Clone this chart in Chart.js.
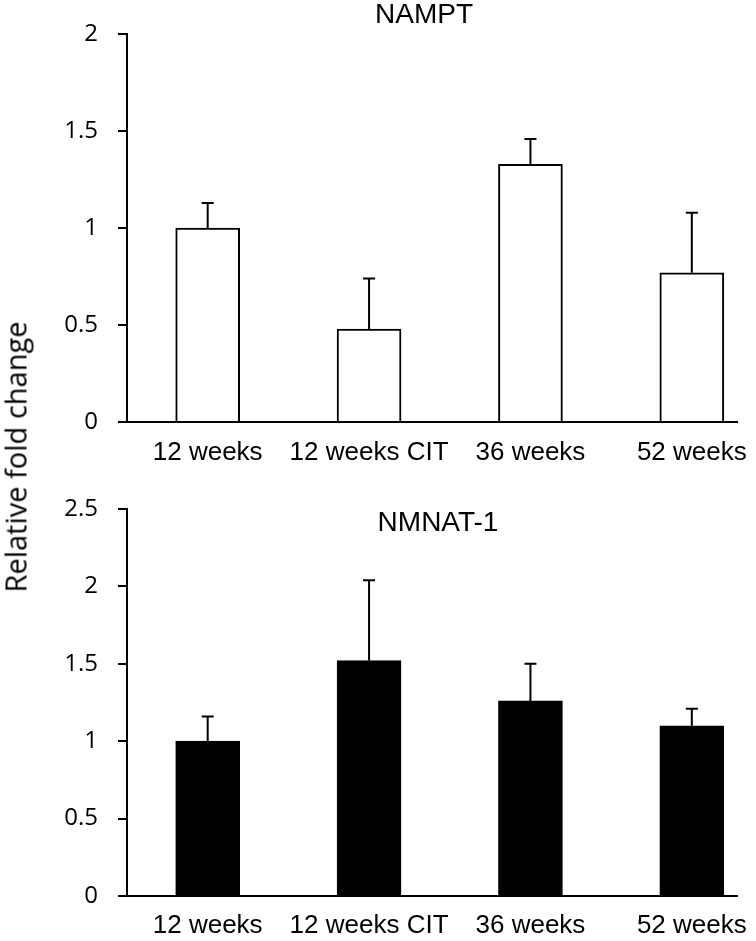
<!DOCTYPE html>
<html>
<head>
<meta charset="utf-8">
<script src="https://cdn.jsdelivr.net/npm/chart.js@4.4.1/dist/chart.umd.min.js"></script>
<style>
  body { margin: 0; background: #fff; }
  #wrap { position: relative; width: 756px; height: 941px; overflow: hidden; }
  canvas { position: absolute; left: 0; }
  #namptChart { top: 0; }
  #nmnatChart { top: 470px; }
  #yTitle {
    position: absolute; left: 15px; top: 457px;
    transform: translate(-50%, -50%) rotate(-90deg);
    font: 29px "Open Sans"; white-space: nowrap; color: #000;
  }
</style>
</head>
<body>
<div id="wrap">
  <canvas id="namptChart" width="756" height="470"></canvas>
  <canvas id="nmnatChart" width="756" height="471"></canvas>
  <div id="yTitle">Relative fold change</div>
</div>
<script>
const categories = ['12 weeks', '12 weeks CIT', '36 weeks', '52 weeks'];
const namptValues = [1.00, 0.48, 1.33, 0.77];
const namptErrors = [0.13, 0.26, 0.13, 0.31];
const nmnatValues = [1.00, 1.52, 1.26, 1.10];
const nmnatErrors = [0.16, 0.52, 0.24, 0.11];
const namptTicks = [0, 0.5, 1, 1.5, 2];
const nmnatTicks = [0, 0.5, 1, 1.5, 2, 2.5];

// upper error bars drawn from the bar top through the y scale
const errorBars = {
  id: 'errorBars',
  afterDatasetsDraw(chart, args, opts) {
    const { ctx, scales: { x, y } } = chart;
    ctx.save();
    ctx.strokeStyle = '#000';
    ctx.lineWidth = 2;
    chart.data.datasets[0].data.forEach((pt, i) => {
      const px = x.getPixelForValue(pt.x);
      const y0 = y.getPixelForValue(pt.y);
      const y1 = y.getPixelForValue(pt.y + opts.errors[i]);
      ctx.beginPath();
      ctx.moveTo(px, y0);
      ctx.lineTo(px, y1);
      ctx.moveTo(px - 6, y1);
      ctx.lineTo(px + 6, y1);
      ctx.stroke();
    });
    ctx.restore();
  }
};

const panelTitle = {
  id: 'panelTitle',
  afterDraw(chart, args, opts) {
    const { ctx, chartArea } = chart;
    ctx.save();
    ctx.font = '28px "Liberation Sans"';
    ctx.fillStyle = '#000';
    ctx.textAlign = 'center';
    ctx.textBaseline = 'middle';
    ctx.fillText(opts.text, (chartArea.left + chartArea.right) / 2 + opts.dx, opts.y);
    ctx.restore();
  }
};

function makeChart(id, title, values, errors, ticks, fill, layout) {
  return new Chart(document.getElementById(id), {
    type: 'bar',
    data: {
      datasets: [{
        data: values.map((v, i) => ({ x: i, y: v })),
        backgroundColor: fill,
        borderColor: '#000',
        borderWidth: 2,
        barThickness: 64
      }]
    },
    options: {
      responsive: false,
      animation: false,
      devicePixelRatio: 1,
      layout: { padding: { top: layout.top, right: 19, bottom: 0, left: 0 } },
      plugins: {
        legend: { display: false },
        tooltip: { enabled: false },
        errorBars: { errors: errors },
        panelTitle: title
      },
      scales: {
        x: {
          type: 'linear',
          offset: false,
          min: -0.5,
          max: 3.28,
          afterBuildTicks: (axis) => { axis.ticks = categories.map((c, i) => ({ value: i })); },
          afterFit: (s) => { s.height = layout.xh; s.paddingLeft = 0; s.paddingRight = 0; },
          grid: { display: false, drawTicks: false, offset: false },
          border: { display: true, color: '#000', width: 2 },
          ticks: {
            callback: (v) => categories[v],
            autoSkip: false,
            maxRotation: 0,
            padding: layout.xpad,
            color: '#000',
            font: { family: '"Liberation Sans"', size: 26 }
          }
        },
        y: {
          min: 0,
          max: ticks[ticks.length - 1],
          afterBuildTicks: (axis) => { axis.ticks = ticks.map((v) => ({ value: v })); },
          afterFit: (s) => { s.width = 127; },
          grid: { display: true, drawOnChartArea: false, drawTicks: true, tickLength: 9, color: '#000', lineWidth: 2 },
          border: { display: true, color: '#000', width: 2 },
          ticks: {
            callback: (v) => String(v),
            padding: 20,
            color: '#000',
            font: { family: '"Open Sans"', size: 24 }
          }
        }
      }
    },
    plugins: [errorBars, panelTitle]
  });
}

makeChart('namptChart', { text: 'NAMPT', dx: -8, y: 15 }, namptValues, namptErrors, namptTicks, '#fff',
  { top: 34, xh: 48, xpad: 15 });
makeChart('nmnatChart', { text: 'NMNAT-1', dx: 6, y: 53 }, nmnatValues, nmnatErrors, nmnatTicks, '#000',
  { top: 39, xh: 45, xpad: 14 });
</script>
</body>
</html>
